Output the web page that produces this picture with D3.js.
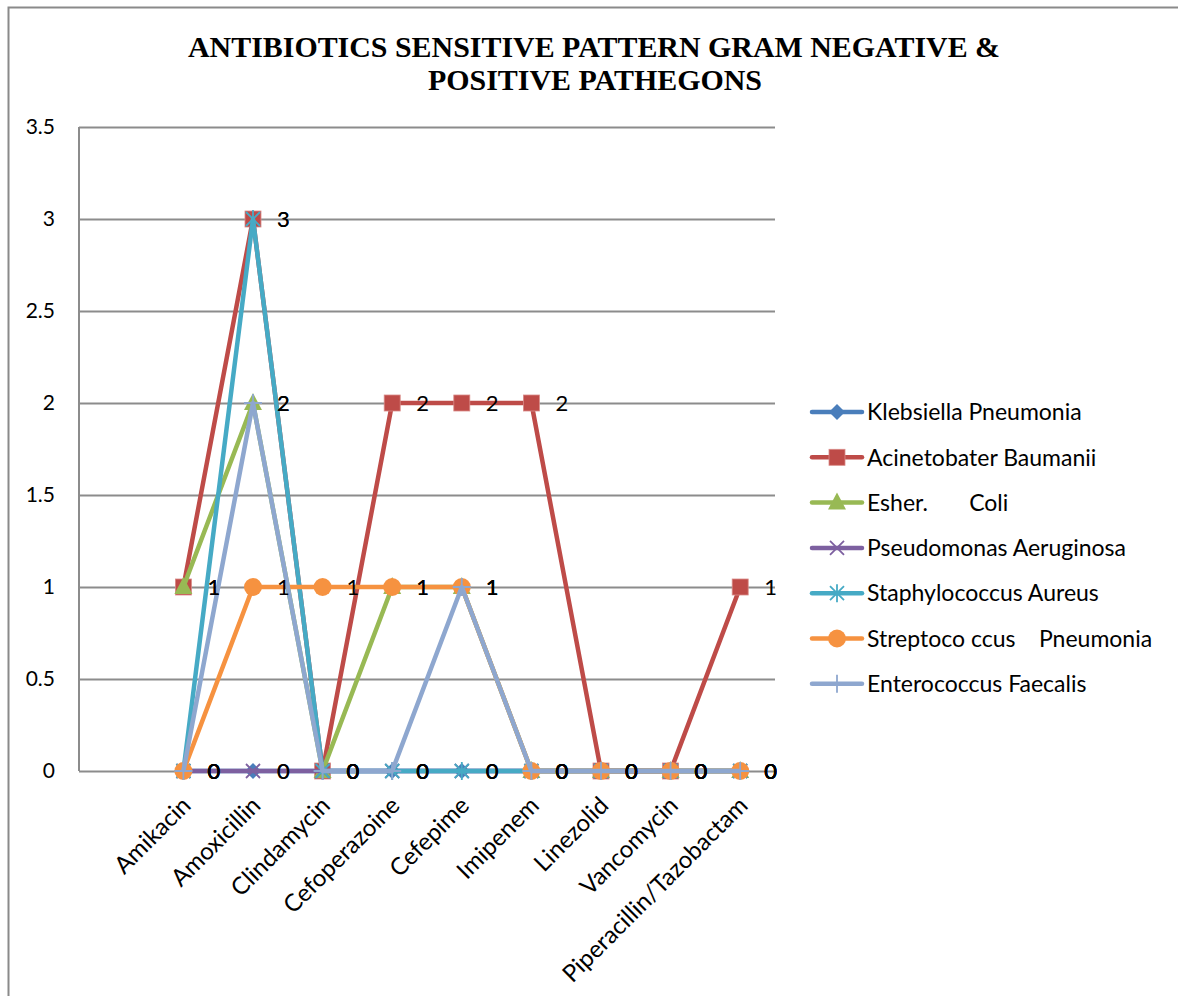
<!DOCTYPE html>
<html>
<head>
<meta charset="utf-8">
<script src="https://cdn.jsdelivr.net/npm/d3@7"></script>
<style>
  html, body { margin: 0; padding: 0; background: #fff; }
  svg { display: block; }
  text { font-family: Lato, "Open Sans", sans-serif; }
</style>
</head>
<body>
<svg id="chart" width="1178" height="996"></svg>
<script>
// Antibiotics tested
const categories = ["Amikacin", "Amoxicillin", "Clindamycin", "Cefoperazoine", "Cefepime",
                    "Imipenem", "Linezolid", "Vancomycin", "Piperacillin/Tazobactam"];

// Pathogen series (sensitive counts per antibiotic)
const seriesNames = ["Klebsiella Pneumonia", "Acinetobater Baumanii", "Esher.       Coli",
                     "Pseudomonas Aeruginosa", "Staphylococcus Aureus",
                     "Streptoco ccus    Pneumonia", "Enterococcus Faecalis"];
const klebsiella     = [0, 0, 0, 0, 0, 0, 0, 0, 0];
const acinetobacter  = [1, 3, 0, 2, 2, 2, 0, 0, 1];
const eColi          = [1, 2, 0, 1, 1, 0, 0, 0, 0];
const pseudomonas    = [0, 0, 0, 0, 0, 0, 0, 0, 0];
const staphylococcus = [0, 3, 0, 0, 0, 0, 0, 0, 0];
const streptococcus  = [0, 1, 1, 1, 1, 0, 0, 0, 0];
const enterococcus   = [0, 2, 0, 0, 1, 0, 0, 0, 0];

const yTicks = [0, 0.5, 1, 1.5, 2, 2.5, 3, 3.5];
const yTickLabels = ["0", "0.5", "1", "1.5", "2", "2.5", "3", "3.5"];

const seriesValues = [klebsiella, acinetobacter, eColi, pseudomonas, staphylococcus, streptococcus, enterococcus];
const colors  = ["#4A7EBB", "#BE4B48", "#98B954", "#7D60A0", "#46AAC5", "#F69240", "#8EA7CF"];
const markers = ["diamond", "square", "triangle", "x", "star", "circle", "plus"];

const svg = d3.select("#chart");

// outer chart frame
svg.append("rect")
  .attr("x", 8.5).attr("y", 7.5).attr("width", 1200).attr("height", 1020)
  .attr("fill", "none").attr("stroke", "#8a8a8a").attr("stroke-width", 2);

// title
const title = svg.append("text")
  .attr("text-anchor", "middle")
  .style("font-family", "'Liberation Serif', 'Times New Roman', serif")
  .style("font-weight", "bold")
  .style("font-size", "30px")
  .attr("fill", "#000");
title.append("tspan").attr("x", 594).attr("y", 57)
  .attr("textLength", 812).attr("lengthAdjust", "spacingAndGlyphs")
  .text("ANTIBIOTICS SENSITIVE PATTERN GRAM NEGATIVE &");
title.append("tspan").attr("x", 595).attr("y", 90)
  .attr("textLength", 334).attr("lengthAdjust", "spacingAndGlyphs")
  .text("POSITIVE PATHEGONS");

// plot area
const plot = { left: 79, right: 775, top: 127, bottom: 771 };

// category axis keeps one empty slot ahead of the first antibiotic
const slots = ["", ...categories];
const x = d3.scaleBand().domain(slots).range([plot.left, plot.right]);
const cx = c => x(c) + x.bandwidth() / 2;
const y = d3.scaleLinear().domain([0, 3.5]).range([plot.bottom, plot.top]);

// gridlines
const yAxis = d3.axisLeft(y).tickValues(yTicks)
  .tickFormat((d, i) => yTickLabels[i])
  .tickSize(-(plot.right - plot.left)).tickPadding(24);
const gy = svg.append("g").attr("transform", `translate(${plot.left},0)`).call(yAxis);
gy.select(".domain").remove();
gy.selectAll(".tick line").attr("stroke", "#8c8c8c").attr("stroke-width", 2);
gy.selectAll(".tick text").attr("fill", "#000").style("font-size", "21px")
  .style("font-family", "Lato, sans-serif");

// vertical axis line
svg.append("line")
  .attr("x1", plot.left).attr("x2", plot.left)
  .attr("y1", plot.top).attr("y2", plot.bottom)
  .attr("stroke", "#8c8c8c").attr("stroke-width", 2);

// category labels
const gx = svg.append("g");
gx.selectAll("text").data(categories).join("text")
  .attr("transform", d => `translate(${cx(d) + 3},${plot.bottom + 30}) rotate(-45)`)
  .attr("text-anchor", "end")
  .attr("dy", "0.35em")
  .style("font-size", "24px")
  .attr("fill", "#000")
  .text(d => d);

// marker drawing
function drawMarker(g, type, color, px, py) {
  switch (type) {
    case "diamond":
      g.append("path").attr("d", `M${px},${py - 8}L${px + 8},${py}L${px},${py + 8}L${px - 8},${py}Z`).attr("fill", color);
      break;
    case "square":
      g.append("rect").attr("x", px - 8).attr("y", py - 8).attr("width", 16).attr("height", 16)
        .attr("fill", color).attr("stroke", "#d98a88").attr("stroke-width", 0.8);
      break;
    case "triangle":
      g.append("path").attr("d", `M${px},${py - 10}L${px + 9},${py + 7}L${px - 9},${py + 7}Z`).attr("fill", color);
      break;
    case "x":
      g.append("path").attr("d", `M${px - 7},${py - 7}L${px + 7},${py + 7}M${px + 7},${py - 7}L${px - 7},${py + 7}`)
        .attr("stroke", color).attr("stroke-width", 1.8);
      break;
    case "star":
      g.append("path").attr("d", `M${px - 7},${py - 7}L${px + 7},${py + 7}M${px + 7},${py - 7}L${px - 7},${py + 7}M${px},${py - 9}L${px},${py + 9}`)
        .attr("stroke", color).attr("stroke-width", 1.8);
      break;
    case "circle":
      g.append("circle").attr("cx", px).attr("cy", py).attr("r", 9).attr("fill", color);
      break;
    case "plus":
      g.append("path").attr("d", `M${px},${py - 9}L${px},${py + 9}M${px - 9},${py}L${px + 9},${py}`)
        .attr("stroke", color).attr("stroke-width", 1.8);
      break;
  }
}

// series lines and markers
const line = d3.line().x((d, i) => cx(categories[i])).y(d => y(d));
seriesValues.forEach((vals, si) => {
  const g = svg.append("g");
  g.append("path").datum(vals).attr("d", line)
    .attr("fill", "none").attr("stroke", colors[si]).attr("stroke-width", 4.5)
    .attr("stroke-linejoin", "round");
  vals.forEach((v, i) => drawMarker(g, markers[si], colors[si], cx(categories[i]), y(v)));
});

// data labels
seriesValues.forEach(vals => {
  svg.append("g").selectAll("text").data(vals).join("text")
    .attr("x", (d, i) => cx(categories[i]) + 24)
    .attr("y", d => y(d))
    .attr("dy", "0.36em")
    .style("font-size", "22px")
    .attr("fill", "#000")
    .text(d => d);
});

// legend
const legend = svg.append("g");
seriesNames.forEach((name, i) => {
  const ly = 412 + i * 45.3;
  const lg = legend.append("g");
  lg.append("line").attr("x1", 812).attr("x2", 862).attr("y1", ly).attr("y2", ly)
    .attr("stroke", colors[i]).attr("stroke-width", 4.5).attr("stroke-linecap", "round");
  drawMarker(lg, markers[i], colors[i], 837, ly);
  lg.append("text").attr("x", 867).attr("y", ly).attr("dy", "0.36em")
    .style("font-size", "23px").style("white-space", "pre")
    .attr("fill", "#000").text(name);
});
</script>
</body>
</html>
